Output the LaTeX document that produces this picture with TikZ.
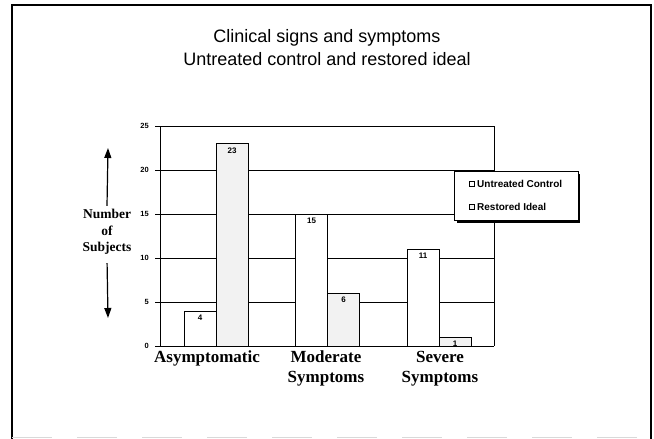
\documentclass[tikz,border=0pt]{standalone}
\usepackage{fontspec}
\setmainfont{Liberation Serif}
\setsansfont{Liberation Sans}
\usetikzlibrary{
	positioning,
	arrows.meta
}
\tikzset{
	x=1pt,
	y=-1pt,
	grid line/.style={
		line width=0.6pt
	},
	control bar/.style={
		draw,fill=white,line width=0.6pt
	},
	ideal bar/.style={
		draw,fill=black!5,line width=0.7pt
	},
	bar value/.style={
		anchor=north,inner sep=1pt,
		font=\sffamily\bfseries\fontsize{8}{9}\selectfont
	},
	tick label/.style={
		anchor=east,inner sep=1pt,
		font=\sffamily\bfseries\fontsize{7.5}{8}\selectfont
	},
	group label/.style={
		anchor=north,align=center,inner sep=0pt,
		font=\bfseries\fontsize{17}{20}\selectfont
	},
	axis arrow/.style={
		line width=1.2pt,
		-{Triangle[length=10pt,width=7pt]}
	},
	key entry/.style={
		anchor=west,inner sep=1pt,
		font=\sffamily\bfseries\fontsize{10}{11}\selectfont
	}
}

\begin{document}
\begin{tikzpicture}
	\useasboundingbox (0,0) rectangle (654,439);

	% frame
	\draw[line width=1.2pt] (12,439) -- (12,5) -- (651,5) -- (651,439);
	\draw[black!15,dash pattern=on 40pt off 25pt] (12,437) -- (651,437);

	\node[font=\sffamily\fontsize{18}{23}\selectfont,align=center] (title) at (327,48)
		{Clinical signs and symptoms\\Untreated control and restored ideal};

	% grid and scale
	\foreach \v in {0,5,...,25} {
		\draw[grid line] (155,{346-8.8*\v}) -- (494,{346-8.8*\v});
		\node[tick label] (t\v) at (150,{346-8.8*\v}) {\v};
	}
	\draw[grid line] (160,126) -- (160,346);
	\draw[grid line] (494,126) -- (494,346);
	\draw[line width=1pt] (160,346) -- (494,346);

	% bars
	\foreach[count=\k from 0] \c/\r in {4/23,15/6,11/1} {
		\draw[control bar] ({184+111.5*\k},346) rectangle ({216+111.5*\k},{346-8.8*\c});
		\draw[ideal bar] ({216+111.5*\k},346) rectangle ({248+111.5*\k},{346-8.8*\r});
		\node[bar value] (c\k) at ({200+111.5*\k},{349-8.8*\c}) {\c};
		\node[bar value] (r\k) at ({232+111.5*\k},{349-8.8*\r}) {\r};
	}

	% categories
	\node[group label] (g0) at (207,351) {Asymptomatic};
	\node[group label] (g1) at (326,351) {Moderate\\Symptoms};
	\node[group label] (g2) at (440,351) {Severe\\Symptoms};

	% y label
	\node[align=center,font=\bfseries\fontsize{13.5}{16.5}\selectfont] (ylab) at (107,232)
		{Number\\of\\Subjects};
	\coordinate (up) at (108,148);
	\coordinate (down) at (108,318);
	\draw[axis arrow] (ylab.north) -- (up);
	\draw[axis arrow,shorten <=5pt] (ylab.south) -- (down);

	% key
	\fill (457,174) rectangle (580,223);
	\draw[fill=white,line width=0.6pt] (454,171) rectangle (578,220);
	\draw[fill=white,line width=0.5pt] (469,181) rectangle (474,186);
	\draw[fill=black!5,line width=0.5pt] (469,204) rectangle (474,209);
	\node[key entry] (k0) at (476,183.5) {Untreated Control};
	\node[key entry] (k1) at (476,206.5) {Restored Ideal};
\end{tikzpicture}
\end{document}
